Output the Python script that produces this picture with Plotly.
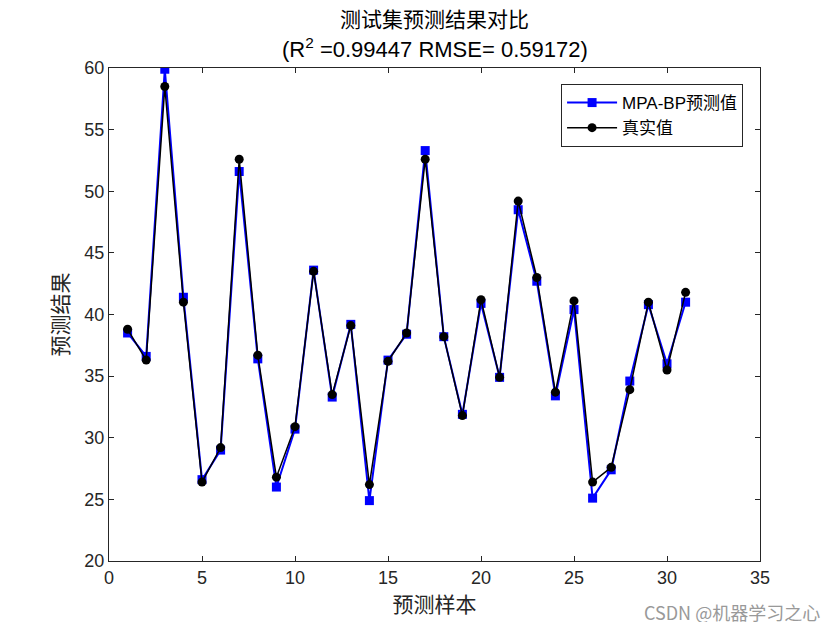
import plotly.graph_objects as go

sample_idx = list(range(1, 32))

pred_values = [
    38.5, 36.6, 59.9, 41.4, 26.6, 29.0, 51.6, 36.4, 26.0, 30.7,
    43.6, 33.3, 39.2, 24.9, 36.3, 38.4, 53.3, 38.2, 31.9, 40.9,
    34.9, 48.5, 42.7, 33.4, 40.4, 25.1, 27.4, 34.6, 40.8, 36.0, 41.0,
]

true_values = [
    38.8, 36.3, 58.5, 41.0, 26.4, 29.2, 52.6, 36.7, 26.8, 30.9,
    43.5, 33.5, 39.1, 26.2, 36.2, 38.5, 52.6, 38.2, 31.8, 41.2,
    34.9, 49.2, 43.0, 33.7, 41.1, 26.4, 27.6, 33.9, 41.0, 35.5, 41.8,
]

font_main = "Liberation Sans, Arial, Noto Sans CJK SC, sans-serif"
font_cjk = "Noto Sans CJK SC, sans-serif"

fig = go.Figure()

fig.add_trace(go.Scatter(
    x=sample_idx,
    y=pred_values,
    mode="lines+markers",
    name="MPA-BP预测值",
    line=dict(color="#0000ff", width=2),
    marker=dict(symbol="square", size=9, color="#0000ff"),
))

fig.add_trace(go.Scatter(
    x=sample_idx,
    y=true_values,
    mode="lines+markers",
    name="真实值",
    line=dict(color="#000000", width=1.5),
    marker=dict(symbol="circle", size=9, color="#000000"),
))

axis_style = dict(
    showline=True,
    linecolor="#262626",
    linewidth=1,
    mirror="ticks",
    ticks="inside",
    ticklen=5,
    tickcolor="#262626",
    showgrid=False,
    zeroline=False,
    automargin=False,
    tickfont=dict(family=font_main, size=18, color="#262626"),
)

fig.update_xaxes(
    range=[0, 35],
    dtick=5,
    title=dict(text="预测样本", font=dict(family=font_cjk, size=21, color="#262626"), standoff=10),
    **axis_style,
)
fig.update_yaxes(
    range=[20, 60],
    dtick=5,
    title=dict(text="预测结果", font=dict(family=font_cjk, size=21, color="#262626"), standoff=10),
    **axis_style,
)

# page body has an 8px margin, so the figure is drawn 8px smaller than the window
fig.update_layout(
    width=824,
    height=614,
    plot_bgcolor="white",
    paper_bgcolor="white",
    margin=dict(l=101, r=72, t=60, b=61),
    title=dict(
        text="测试集预测结果对比",
        x=0.5,
        xanchor="center",
        xref="paper",
        y=1 - 12 / 614,
        yref="container",
        yanchor="middle",
        font=dict(family=font_cjk, size=21, color="#000000"),
    ),
    legend=dict(
        x=0.974,
        y=0.9675,
        xanchor="right",
        yanchor="top",
        bgcolor="white",
        bordercolor="#262626",
        borderwidth=1,
        font=dict(family=font_main, size=17, color="#000000"),
        itemwidth=50,
        tracegroupgap=0,
    ),
    showlegend=True,
)

fig.add_annotation(
    text="(R<sup>2</sup> =0.99447 RMSE= 0.59172)",
    xref="paper", yref="paper",
    x=0.5, y=1.0406,
    xanchor="center", yanchor="middle",
    showarrow=False,
    font=dict(family=font_main, size=22, color="#000000"),
)

fig.add_annotation(
    text="CSDN @机器学习之心",
    xref="paper", yref="paper",
    x=1.0952, y=-0.1034,
    xanchor="right", yanchor="middle",
    showarrow=False,
    font=dict(family=font_cjk, size=18, color="#999999"),
)

fig.write_html("out.html")
